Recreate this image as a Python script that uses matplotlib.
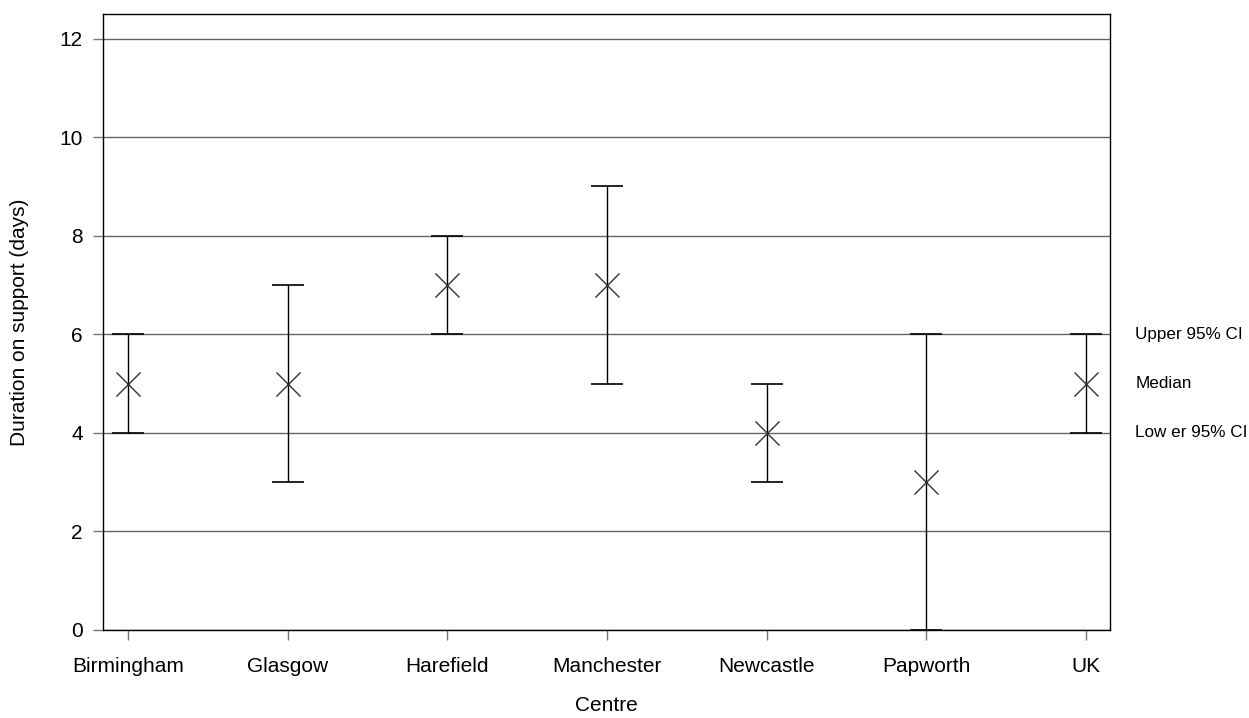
import matplotlib
matplotlib.use("Agg")
import matplotlib.pyplot as plt

plt.rcParams["font.family"] = ["Liberation Sans", "DejaVu Sans"]

centres = ["Birmingham", "Glasgow", "Harefield", "Manchester", "Newcastle", "Papworth", "UK"]
median = [5, 5, 7, 7, 4, 3, 5]
lower_ci = [4, 3, 6, 5, 3, 0, 4]
upper_ci = [6, 7, 8, 9, 5, 6, 6]
y_ticks = [0, 2, 4, 6, 8, 10, 12]

fig = plt.figure(figsize=(12.49, 7.18), dpi=100)
ax = fig.add_axes([0.0825, 0.1226, 0.8062, 0.858])

x = list(range(len(centres)))
err_lo = [m - l for m, l in zip(median, lower_ci)]
err_hi = [u - m for m, u in zip(median, upper_ci)]
ax.errorbar(x, median, yerr=[err_lo, err_hi], fmt="none", ecolor="black",
            elinewidth=1, capsize=11.5, capthick=1.2, zorder=3)
ax.scatter(x, median, marker="x", s=300, color="#333333", linewidths=1, zorder=4)

ax.set_xlim(-0.156, 6.15)
ax.set_ylim(0, 12.5)
ax.set_yticks(y_ticks)
ax.set_xticks(x)
ax.set_xticklabels(centres)
ax.yaxis.grid(True, color="#666666", linewidth=1)
ax.set_axisbelow(True)
ax.tick_params(axis="both", labelsize=15, length=7.5, width=1, color="#777777")
ax.tick_params(axis="y", pad=7)
ax.tick_params(axis="x", pad=12)
ax.set_xlabel("Centre", fontsize=15, labelpad=14)
ax.set_ylabel("Duration on support (days)", fontsize=15, labelpad=22)
for s in ax.spines.values():
    s.set_linewidth(1)

# key on right
ytr = ax.get_yaxis_transform()
ax.text(1.025, 6, "Upper 95% CI", transform=ytr, va="center", fontsize=12.3)
ax.text(1.025, 5, "Median", transform=ytr, va="center", fontsize=12.3)
ax.text(1.025, 4, "Low er 95% CI", transform=ytr, va="center", fontsize=12.3)

plt.savefig("out.png", dpi=100)
